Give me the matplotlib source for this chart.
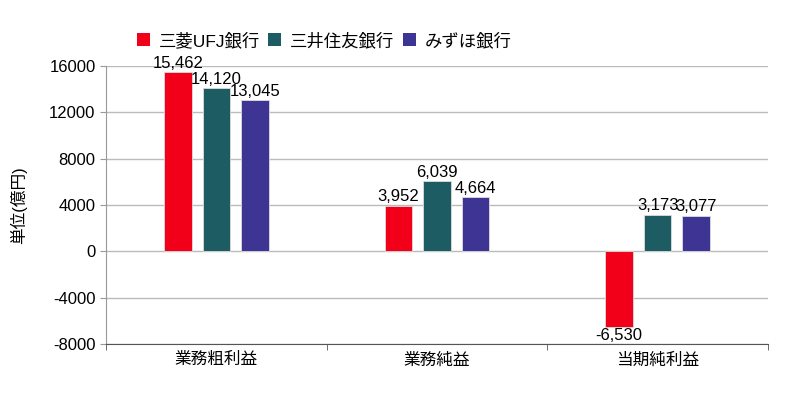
import matplotlib.pyplot as plt
import numpy as np
from matplotlib.patches import Patch

plt.rcParams['font.family'] = ['Liberation Sans', 'Noto Sans CJK JP']

categories = ['業務粗利益', '業務純益', '当期純利益']
banks = ['三菱UFJ銀行', '三井住友銀行', 'みずほ銀行']
mufg = [15462, 3952, -6530]
smbc = [14120, 6039, 3173]
mizuho = [13045, 4664, 3077]
colors = ['#f2001a', '#1d5c62', '#3d3494']
yticks = [-8000, -4000, 0, 4000, 8000, 12000, 16000]

fig = plt.figure(figsize=(8, 3.98), dpi=100)
ax = fig.add_axes([0.1325, 0.136, 0.8275, 0.698])

x = np.arange(len(categories))
width = 0.125
offset = 0.175
series = [mufg, smbc, mizuho]
for i, vals in enumerate(series):
    pos = x + (i - 1) * offset
    ax.bar(pos, vals, width=width, color=colors[i], edgecolor='#dddddd',
           linewidth=0.6, zorder=3)
    for xp, v in zip(pos, vals):
        if v >= 0:
            ax.text(xp, v + 100, f'{v:,}', ha='center', va='bottom', fontsize=12)
        else:
            ax.text(xp, v - 100, f'{v:,}', ha='center', va='top', fontsize=12)

ax.set_xlim(-0.5, 2.5)
ax.set_ylim(-8000, 16000)
ax.set_yticks(yticks)
ax.set_yticklabels([str(t) for t in yticks], fontsize=12)
ax.yaxis.grid(True, color='#bbbbbb', linewidth=1, zorder=0)
ax.set_axisbelow(True)

ax.set_xticks(x)
ax.set_xticklabels(categories, fontsize=12)
ax.tick_params(axis='x', length=0, pad=6)
ax.set_xticks([-0.5, 0.5, 1.5, 2.5], minor=True)
ax.tick_params(axis='x', which='minor', length=4, color='#555555')
ax.tick_params(axis='y', length=4, color='#999999')

for s in ['top', 'right']:
    ax.spines[s].set_visible(False)
ax.spines['left'].set_color('#999999')
ax.spines['bottom'].set_color('#555555')

ax.set_ylabel('単位(億円)', fontsize=12, labelpad=16)

handles = [Patch(facecolor=c) for c in colors]
fig.legend(handles, banks, loc='upper left', bbox_to_anchor=(0.171, 0.92), ncol=3,
           frameon=False, fontsize=12.5, handlelength=0.75, handleheight=0.75,
           handletextpad=0.5, columnspacing=0.5, borderpad=0, borderaxespad=0)

fig.savefig('out.png', dpi=100)
